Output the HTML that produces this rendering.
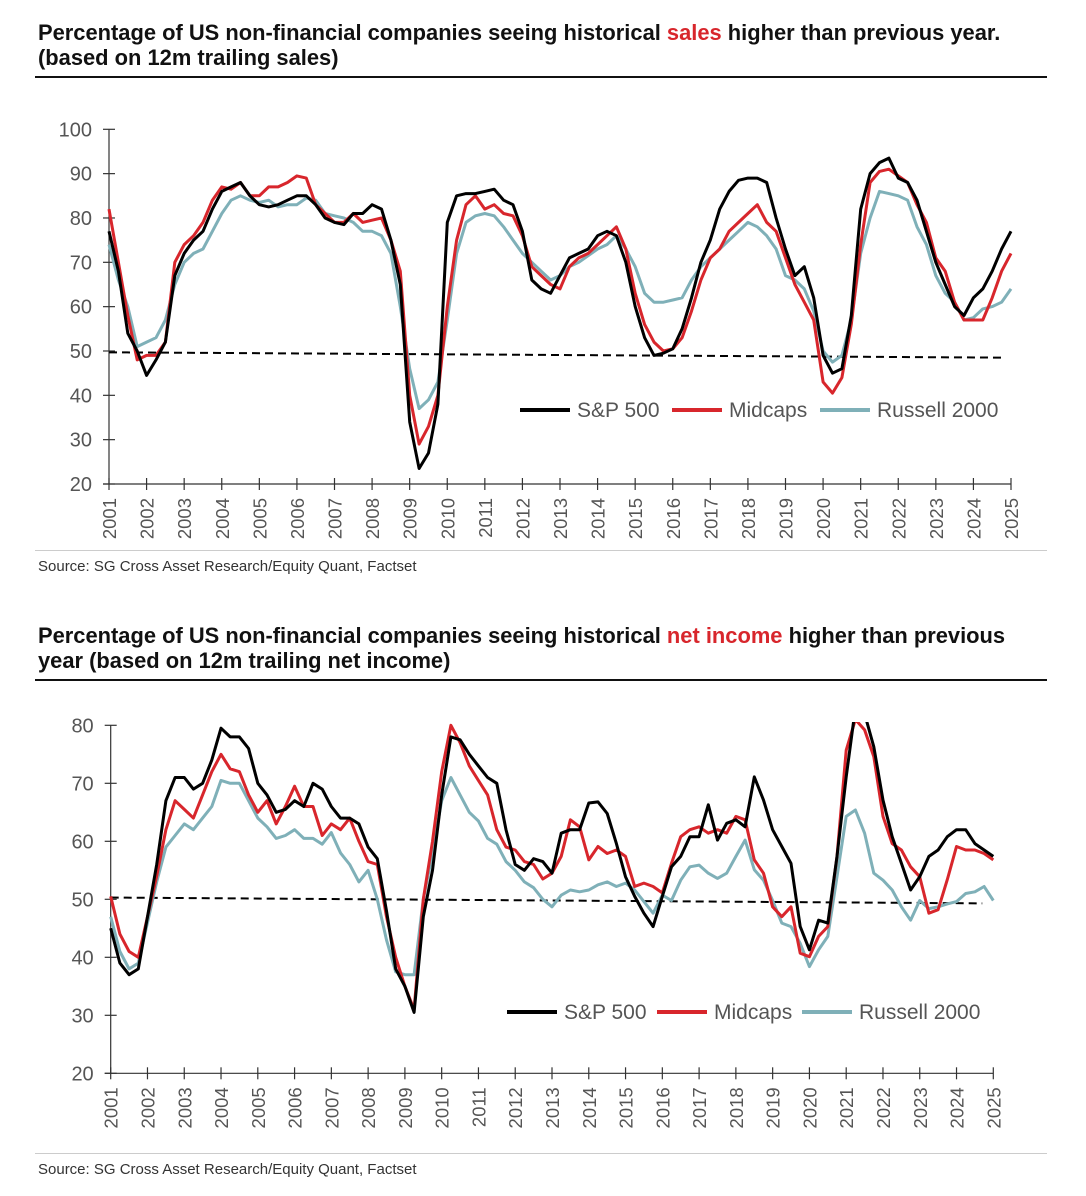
<!DOCTYPE html>
<html><head><meta charset="utf-8">
<style>
body{margin:0;background:#fff;width:1086px;height:1196px;overflow:hidden;font-family:"Liberation Sans",sans-serif;}
svg{position:absolute;left:0;top:0}
</style></head>
<body>
<svg id="s" width="1086" height="1196" xmlns="http://www.w3.org/2000/svg">
<defs>
<clipPath id="c1"><rect x="100" y="120" width="930" height="364"/></clipPath>
<clipPath id="c2"><rect x="100" y="722" width="930" height="351"/></clipPath>
</defs>
<g>
<text x="38" y="40" font-size="21.9" font-weight="bold" fill="#111">Percentage of US non-financial companies seeing historical <tspan fill="#d8262c">sales</tspan> higher than previous year.</text>
<text x="38" y="65" font-size="21.9" font-weight="bold" fill="#111">(based on 12m trailing sales)</text>
<rect x="35" y="76" width="1012" height="2" fill="#111"/>
</g>
<rect x="35" y="550" width="1012" height="1" fill="#ccc"/>
<text x="38" y="571" font-size="15" fill="#333">Source: SG Cross Asset Research/Equity Quant, Factset</text>
<g>
<text x="38" y="643" font-size="21.9" font-weight="bold" fill="#111">Percentage of US non-financial companies seeing historical <tspan fill="#d8262c">net income</tspan> higher than previous</text>
<text x="38" y="668" font-size="21.9" font-weight="bold" fill="#111">year (based on 12m trailing net income)</text>
<rect x="35" y="679" width="1012" height="2" fill="#111"/>
</g>
<rect x="35" y="1153" width="1012" height="1" fill="#ccc"/>
<text x="38" y="1174" font-size="15" fill="#333">Source: SG Cross Asset Research/Equity Quant, Factset</text>
<g id="g1"></g>
<g id="g2"></g>
</svg>
<script>
const years=[2001,2002,2003,2004,2005,2006,2007,2008,2009,2010,2011,2012,2013,2014,2015,2016,2017,2018,2019,2020,2021,2022,2023,2024,2025];
const seriesNames=["S&P 500","Midcaps","Russell 2000"];
// quarterly values from 2001.0 to 2025.0
const salesSP=[77,68,54,50,44.5,48,52,67,72,75,77,82,86,87,88,85,83,82.5,83,84,85,85,83,80,79,78.5,81,81,83,82,75,65,34,23.5,27,38,79,85,85.5,85.5,86,86.5,84,83,77,66,64,63,67,71,72,73,76,77,76,70,60,53,49,49.5,50.5,55,62,70,75,82,86,88.5,89,89,88,80,73,67,69,62,49,45,46,58,82,90,92.5,93.5,89,88,84,77,70,65,60,58,62,64,68,73,77];
const salesMid=[82,70,58,48,49,49,52,70,74,76,79,84,87,86.5,88,85,85,87,87,88,89.5,89,83,81,79,79,81,79,79.5,80,75,68,40,29,33,40,60,75,83,85,82,83,81,80.5,76,69,67,65,64,69,71,72,74,76,78,73,63,56,52,50,50.5,53,59,66,71,73,77,79,81,83,79,77,71,65,61,57,43,40.5,44,56,74,88,90.5,91,89.5,88,83,79,71,68,61,57,57,57,62,68,72];
const salesR2K=[74,66,60,51,52,53,57,65,70,72,73,77,81,84,85,84,83.5,84,82.5,83,83,84.5,84,81,80.5,80,79,77,77,76,72,60,46,37,39,43,57,72,79,80.5,81,80.5,78,75,72,70,68,66,67,69,70,71.5,73,74,76,73,69,63,61,61,61.5,62,66,69,71,73,75,77,79,78,76,73,67,66,64,59,50,47.5,49,57,72,80,86,85.5,85,84,78,74,67,63,61,57,57.5,59.5,60,61,64];
const incSP=[45,39,37,38,47,56,67,71,71,69,70,74,79.5,78,78,76,70,68,65,65.5,67,66,70,69,66,64,64,63,59,57,48,38,35,30.5,47,55,68,78,77.5,75,73,71,70,62,56,55,57,56.5,54.5,61.4,62,62,66.6,66.8,64.8,59.6,53.9,50.5,47.6,45.3,50.5,55.6,57.4,60.8,60.8,66.3,60.2,63.1,63.7,62.5,71.1,67.1,62,59.1,56.2,45.3,41.3,46.4,45.9,57.4,71.1,83,82,76.3,67.1,60.8,56.2,51.6,53.9,57.4,58.5,60.8,62,62,59.6,58.5,57.4];
const incMid=[50.5,44,41,40,47,54,62,67,65.5,64,68,72,75,72.5,72,68,65,67,63,66,69.5,66,66,61,63,62,64,60,56.5,56,47,40,35,31,50,60,72,80,77,73,70.5,68,62,59,58.5,56.5,56,53.5,54.5,57.4,63.7,62.5,56.8,59.1,57.9,58.5,57.4,52.2,52.8,52.2,51.1,56.2,60.8,62,62.5,61.4,62,61.4,64.3,63.7,56.8,54.5,48.7,47,48.7,40.7,40.1,43.6,45.3,57.4,75.7,81,79.2,74.6,64.3,59.6,58.5,55.6,53.9,47.6,48.2,53.4,59.1,58.5,58.5,57.9,56.8];
const incR2K=[47,41,38,39,46,53,59,61,63,62,64,66,70.5,70,70,67,64,62.5,60.5,61,62,60.5,60.5,59.5,61.5,58,56,53,55,50,43,37.5,37,37,50,58,67,71,68,65,63.5,60.5,59.5,56.5,55,53,52,50,48.7,50.7,51.6,51.3,51.6,52.5,53,52.2,52.8,51.6,49.6,47.6,50.7,49.8,53.3,55.6,55.9,54.5,53.6,54.5,57.4,60.2,55.1,53.3,49.8,45.9,45.3,42.4,38.4,41.3,43.6,53.9,64.3,65.4,61.4,54.5,53.3,51.6,48.7,46.4,49.8,48.4,48.7,49.2,49.6,51,51.3,52.2,49.8];
const salesTicks=[20,30,40,50,60,70,80,90,100];
const incTicks=[20,30,40,50,60,70,80];
const salesRef=[49.7,48.5], incRef=[50.3,49.3];

const NS="http://www.w3.org/2000/svg";
function mk(p,tag,attrs){const e=document.createElementNS(NS,tag);for(const k in attrs)e.setAttribute(k,attrs[k]);p.appendChild(e);return e;}
const colors=["#000","#d8262c","#7fb0b8"];
function draw(gid,cfg){
  const g=document.getElementById(gid);
  const X=t=>cfg.x0+(t-2001)*(cfg.x1-cfg.x0)/24;
  const Y=v=>cfg.y0+(v-cfg.ymin)*(cfg.y1-cfg.y0)/(cfg.ymax-cfg.ymin);
  const ax=mk(g,'line',{x1:X(2001),y1:Y(cfg.ymin),x2:X(2001),y2:Y(cfg.ymax),stroke:'#333','stroke-width':1.2});
  
  const bx=mk(g,'line',{x1:X(2001)-6,y1:Y(cfg.ymin),x2:X(2025),y2:Y(cfg.ymin),stroke:'#333','stroke-width':1.2});
  
  cfg.ticks.forEach(v=>{
    const t=mk(g,'line',{x1:X(2001)-6,x2:X(2001)+6,y1:Y(v),y2:Y(v),stroke:'#333','stroke-width':1.2});
    
    const l=mk(g,'text',{x:X(2001)-17,y:Y(v)+7,'text-anchor':'end','font-size':20,fill:'#555'});
    l.textContent=v;
    
  });
  years.forEach(yr=>{
    const t=mk(g,'line',{x1:X(yr),x2:X(yr),y1:Y(cfg.ymin)-6,y2:Y(cfg.ymin)+6,stroke:'#333','stroke-width':1.2});
    
    const l=mk(g,'text',{x:0,y:0,'text-anchor':'end','font-size':18.5,fill:'#555',transform:`translate(${X(yr)+7},${Y(cfg.ymin)+14}) rotate(-90)`});
    l.textContent=yr;
    
  });
  const ref=mk(g,'line',{x1:X(2001),y1:Y(cfg.ref[0]),x2:X(cfg.refEnd),y2:Y(cfg.ref[1]),stroke:'#000','stroke-width':2,'stroke-dasharray':'8,5'});
  
  const sg=mk(g,'g',{'clip-path':`url(#${cfg.clip})`});
  
  [2,1,0].forEach(i=>{
    const d=cfg.data[i].map((v,k)=>(k?'L':'M')+X(2001+k/4).toFixed(1)+','+Y(v).toFixed(1)).join('');
    const p=mk(sg,'path',{d:d,fill:'none',stroke:colors[i],'stroke-width':3,'stroke-linejoin':'round'});
    
    
  });
  const lg=mk(g,'g',{});
  
  cfg.leg.forEach((lx,i)=>{
    const ln=mk(lg,'line',{x1:lx,x2:lx+50,y1:cfg.legY,y2:cfg.legY,stroke:colors[i],'stroke-width':4});
    
    const t=mk(lg,'text',{x:lx+57,y:cfg.legY+7,'font-size':21,fill:'#555'});
    t.textContent=seriesNames[i];
    
  });
}
draw('g1',{x0:109,x1:1011,y0:484,y1:129.3,ymin:20,ymax:100,ticks:salesTicks,data:[salesSP,salesMid,salesR2K],ref:salesRef,refEnd:2024.8,clip:'c1',leg:[520,672,820],legY:410});
draw('g2',{x0:110.7,x1:993.3,y0:1073.3,y1:725.3,ymin:20,ymax:80,ticks:incTicks,data:[incSP,incMid,incR2K],ref:incRef,refEnd:2024.7,clip:'c2',leg:[507,657,802],legY:1012});
</script>
</body></html>
